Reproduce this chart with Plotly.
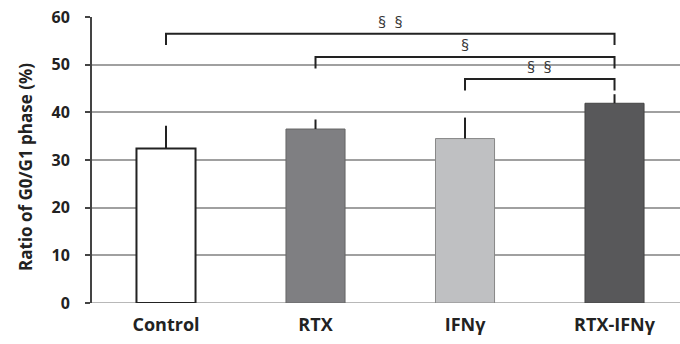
import plotly.graph_objects as go

categories = ["Control", "RTX", "IFNγ", "RTX-IFNγ"]
means = [32.4, 36.5, 34.5, 41.9]
errors = [4.8, 2.0, 4.4, 1.9]
bar_colors = ["#ffffff", "#7f7f82", "#bfc0c2", "#58585a"]
line_colors = ["#222222", "#666666", "#888888", "#444444"]
line_widths = [2, 1, 1, 1]

# significance brackets: (left index, right index, level, label)
brackets = [(0, 3, 56.5, "§  §"), (1, 3, 51.6, "§"), (2, 3, 47.0, "§  §")]
leg = 2.4

xs = list(range(len(categories)))
FONT = "Open Sans"

fig = go.Figure()
for i in xs:
    fig.add_trace(go.Bar(
        x=[i], y=[means[i]], width=0.395,
        marker=dict(color=bar_colors[i], line=dict(color=line_colors[i], width=line_widths[i])),
        error_y=dict(type="data", array=[errors[i]], arrayminus=[0], symmetric=False,
                     color="#222222", thickness=2, width=0),
        showlegend=False,
    ))

shapes = []
annotations = []
for a, b, lvl, lab in brackets:
    shapes.append(dict(type="path", xref="x", yref="y",
                       path=f"M {a},{lvl-leg} L {a},{lvl} L {b},{lvl} L {b},{lvl-leg}",
                       line=dict(color="#222222", width=2)))
    annotations.append(dict(x=(a + b) / 2, y=lvl, xref="x", yref="y", text=lab,
                            showarrow=False, yanchor="bottom", yshift=-1,
                            font=dict(family=FONT, size=16, color="#333333")))

annotations.append(dict(x=-0.114, y=0.4755, xref="paper", yref="paper",
                        text="Ratio of G0/G1 phase (%)", textangle=-90, showarrow=False,
                        xanchor="center", yanchor="middle",
                        font=dict(family=FONT, size=17, color="#222222", weight="bold")))

fig.update_layout(
    width=680, height=344,
    margin=dict(l=92, r=0, t=17, b=41),
    paper_bgcolor="white", plot_bgcolor="white",
    shapes=shapes, annotations=annotations,
    xaxis=dict(tickvals=xs, ticktext=categories, range=[-0.495, 3.438],
               showgrid=False, zeroline=False, showline=False, ticks="",
               tickfont=dict(family=FONT, size=18, color="#222222", weight="bold"),
               ticklabelstandoff=9),
    yaxis=dict(range=[0, 60], tickvals=[0, 10, 20, 30, 40, 50, 60],
               showgrid=True, gridcolor="#a0a0a0", gridwidth=1.5,
               zeroline=False, showline=True, linecolor="#444444", linewidth=2,
               ticks="outside", ticklen=5, tickcolor="#444444", tickwidth=2,
               tickfont=dict(family=FONT, size=16, color="#222222", weight="bold"),
               ticklabelstandoff=12),
)
fig.add_hline(y=0, line=dict(color="#a0a0a0", width=1.5), layer="below")

fig.write_html("out.html",
               post_script="document.documentElement.style.overflow='hidden';"
                           "document.body.style.margin='0';document.body.style.overflow='hidden';")
